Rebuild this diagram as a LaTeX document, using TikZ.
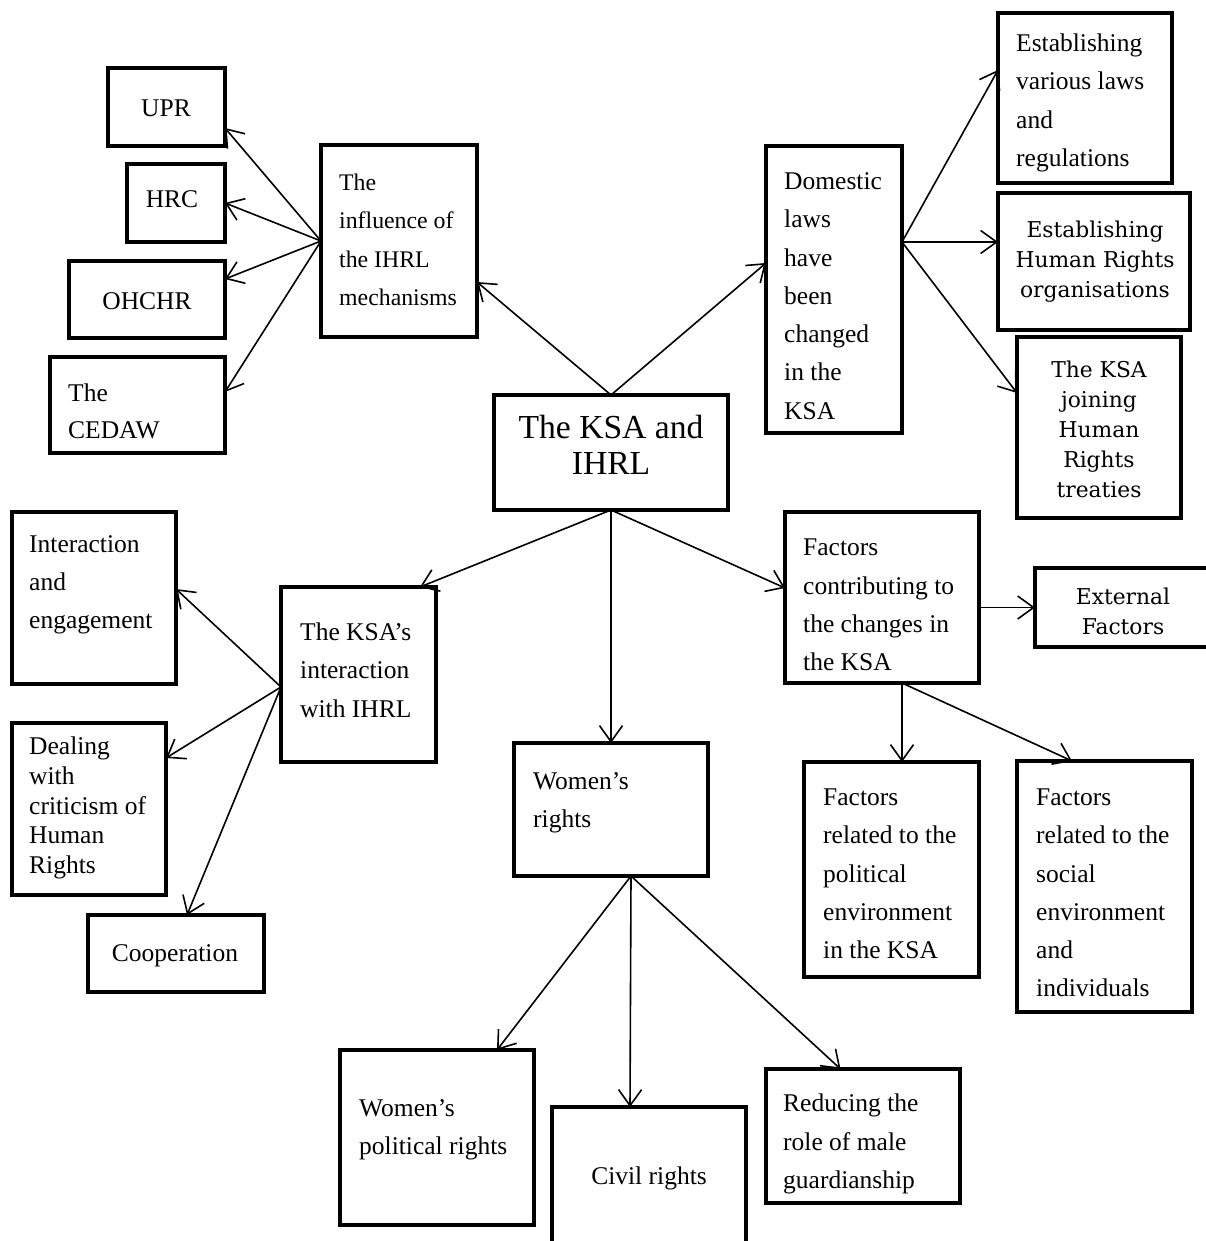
\documentclass[tikz,border=0pt]{standalone}
\usepackage{fontspec}
\setmainfont{Liberation Serif}
\newfontfamily\camfont{DejaVu Serif}
\usetikzlibrary{arrows.meta}

% box from its corners: name, x1, y1, x2, y2 (y grows downwards)
\newcommand\mkbox[5]{%
  \node[box, minimum width={#4-#2}, minimum height={#5-#3}] (#1)
    at ({(#2+#4)/2},{(#3+#5)/2}) {};}

\tikzset{
  box/.style={draw, line width=3.6pt, inner sep=0pt, outer sep=0pt},
  txt/.style={inner sep=0pt, align=left, anchor=west,
              font=\fontsize{25.5}{38.3}\selectfont},
  ctxt/.style={inner sep=0pt, align=center, anchor=center,
              font=\fontsize{25.5}{38.3}\selectfont},
  cam/.style={inner sep=0pt, align=center, anchor=center,
              font=\camfont\fontsize{21.8}{30}\selectfont},
  conn/.style={line width=1.6pt,
              -{Straight Barb[length=16pt,width=23pt]}}
}

\begin{document}
\begin{tikzpicture}[x=1pt,y=-1pt]
\fill[white] (0,0) rectangle (1206,1241);
\useasboundingbox (0,0) rectangle (1206,1241);

% ---- boxes ----
\mkbox{upr}{108}{68}{225}{146}
\mkbox{hrc}{127}{164}{225}{242}
\mkbox{ohchr}{69}{261}{225}{338}
\mkbox{cedaw}{50}{357}{225}{453}
\mkbox{infl}{321}{145}{477}{337}
\mkbox{main}{494}{395}{728}{510}
\mkbox{dom}{766}{146}{902}{433}
\mkbox{est1}{998}{13}{1172}{183}
\mkbox{est2}{998}{193}{1190}{330}
\mkbox{est3}{1017}{337}{1181}{518}
\mkbox{ksai}{281}{587}{436}{762}
\mkbox{inter}{12}{512}{176}{684}
\mkbox{deal}{12}{723}{166}{895}
\mkbox{coop}{88}{915}{264}{992}
\mkbox{wr}{514}{743}{708}{876}
\mkbox{wpol}{340}{1050}{534}{1225}
\mkbox{civil}{552}{1107}{746}{1265}
\mkbox{red}{766}{1069}{960}{1203}
\mkbox{fac}{785}{512}{979}{683}
\mkbox{ext}{1035}{568}{1215}{647}
\mkbox{pol}{804}{762}{979}{977}
\mkbox{soc}{1017}{761}{1192}{1012}

% ---- texts ----
\node[ctxt] (tupr) at (166,108) {UPR};
\node[ctxt] (thrc) at (172,199) {HRC};
\node[ctxt] (tohchr) at (147,301) {OHCHR};
\node[txt, font=\fontsize{25.5}{37}\selectfont] (tcedaw) at (68,411) {The\\CEDAW};
\node[txt, font=\fontsize{23.8}{38.3}\selectfont] (tinfl) at (339,240) {The\\influence of\\the IHRL\\mechanisms};
\node[ctxt, font=\fontsize{33.6}{36}\selectfont] (tmain) at (611,445) {The KSA and\\IHRL};
\node[txt] (tdom) at (784,296) {Domestic\\laws\\have\\been\\changed\\in the\\KSA};
\node[txt] (test1) at (1016,103) {Establishing\\various laws\\and\\regulations};
\node[cam] (test2) at (1095,262) {Establishing\\Human Rights\\organisations};
\node[cam] (test3) at (1099,429) {The KSA\\joining\\Human\\Rights\\treaties};
\node[txt] (tksai) at (300,670) {The KSA’s\\interaction\\with IHRL};
\node[txt] (tinter) at (29,585) {Interaction\\and\\engagement};
\node[txt, font=\fontsize{25.5}{29.7}\selectfont] (tdeal) at (29,808) {Dealing\\with\\criticism of\\Human\\Rights};
\node[ctxt] (tcoop) at (175,956) {Cooperation};
\node[txt] (twr) at (533,803) {Women’s\\rights};
\node[txt] (twpol) at (359,1130) {Women’s\\political rights};
\node[ctxt] (tcivil) at (649,1178) {Civil rights};
\node[txt] (tred) at (783,1144) {Reducing the\\role of male\\guardianship};
\node[txt] (tfac) at (803,605) {Factors\\contributing to\\the changes in\\the KSA};
\node[cam] (text) at (1123,611) {External\\Factors};
\node[txt] (tpol) at (823,874) {Factors\\related to the\\political\\environment\\in the KSA};
\node[txt] (tsoc) at (1036,893) {Factors\\related to the\\social\\environment\\and\\individuals};

% ---- connectors ----
\draw[conn] (main.north) -- ([yshift=-41pt]infl.east);
\draw[conn] (main.north) -- ([yshift=26.5pt]dom.west);

\draw[conn] (infl.west) -- ([yshift=-21pt]upr.east);
\draw[conn] (infl.west) -- (hrc.east);
\draw[conn] (infl.west) -- ([yshift=20.5pt]ohchr.east);
\draw[conn] (infl.west) -- ([yshift=13pt]cedaw.east);

\draw[conn] ([yshift=47.5pt]dom.east) -- ([yshift=28pt]est1.west);
\draw[conn] ([yshift=47.5pt]dom.east) -- ([yshift=19.5pt]est2.west);
\draw[conn] ([yshift=47.5pt]dom.east) -- ([yshift=34.5pt]est3.west);

\draw[conn] (main.south) -- ([xshift=61.5pt]ksai.north);
\draw[conn] (main.south) -- (wr.north);
\draw[conn] (main.south) -- ([yshift=9.5pt]fac.west);

\draw[conn] ([yshift=-12.5pt]ksai.west) -- ([yshift=9pt]inter.east);
\draw[conn] ([yshift=-12.5pt]ksai.west) -- ([yshift=51pt]deal.east);
\draw[conn] ([yshift=-12.5pt]ksai.west) -- ([xshift=11pt]coop.north);

\draw[conn] (fac.east |- ext.west) -- (ext.west);
\draw[conn] ([xshift=20pt]fac.south) -- ([xshift=10.5pt]pol.north);
\draw[conn] ([xshift=20pt]fac.south) -- ([xshift=-32.5pt]soc.north);

\draw[conn] ([xshift=20pt]wr.south) -- ([xshift=60pt]wpol.north);
\draw[conn] ([xshift=20pt]wr.south) -- ([xshift=-19pt]civil.north);
\draw[conn] ([xshift=20pt]wr.south) -- ([xshift=-22.5pt]red.north);
\end{tikzpicture}
\end{document}
